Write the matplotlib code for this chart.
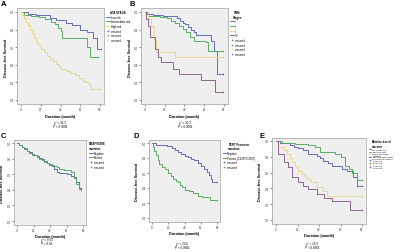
import matplotlib
matplotlib.use("Agg")
import matplotlib.pyplot as plt

plt.rcParams['font.family'] = ['Liberation Sans', 'DejaVu Sans']

W, H = 400, 253
BLUE, GREEN, BEIGE, PURPLE = '#5a62b0', '#4da85c', '#e3d88f', '#8a5a8e'

# ---- data ----
A_low_t = [0, 7, 15, 29, 35, 46, 52, 60, 67, 73, 77, 81]
A_low_s = [1.0, 0.98, 0.97, 0.93, 0.91, 0.88, 0.85, 0.80, 0.77, 0.70, 0.58, 0.58]
A_int_t = [0, 3, 10, 18, 24, 30, 34, 37, 40, 42, 67, 68, 70, 78]
A_int_s = [1.0, 0.97, 0.95, 0.94, 0.92, 0.89, 0.86, 0.82, 0.78, 0.70, 0.60, 0.60, 0.49, 0.49]
A_high_t = [0, 1, 3, 5, 7, 9, 11, 13, 15, 17, 20, 23, 26, 29, 32, 35, 38, 41, 46, 50, 55, 59, 63, 66, 69, 71, 80]
A_high_s = [1.0, 0.97, 0.93, 0.89, 0.85, 0.80, 0.76, 0.71, 0.66, 0.62, 0.58, 0.54, 0.50, 0.47, 0.44, 0.41,
            0.38, 0.35, 0.33, 0.31, 0.28, 0.25, 0.22, 0.20, 0.17, 0.13, 0.13]
A_labels = ['Low risk', 'Intermediate risk', 'High risk', 'censored', 'censored', 'censored']

B_I_t = [0, 2, 8, 18, 28, 32, 35, 38, 41, 44, 47, 50, 52, 67, 70, 73, 79]
B_I_s = [1.0, 0.98, 0.97, 0.96, 0.95, 0.93, 0.90, 0.88, 0.86, 0.83, 0.80, 0.77, 0.74, 0.67, 0.56, 0.30, 0.30]
B_II_t = [0, 3, 6, 15, 22, 26, 30, 34, 38, 42, 46, 50, 62, 64, 79]
B_II_s = [1.0, 0.96, 0.95, 0.94, 0.93, 0.90, 0.87, 0.84, 0.81, 0.77, 0.72, 0.67, 0.66, 0.56, 0.56]
B_III_t = [0, 3, 6, 9, 11, 30, 79]
B_III_s = [1.0, 0.92, 0.84, 0.68, 0.55, 0.49, 0.49]
B_IV_t = [0, 1, 3, 5, 10, 13, 16, 28, 34, 57, 71, 79]
B_IV_s = [1.0, 0.92, 0.84, 0.72, 0.58, 0.49, 0.43, 0.35, 0.30, 0.23, 0.09, 0.09]
B_labels = ['I', 'II', 'III', 'IV', 'censored', 'censored', 'censored', 'censored']

C_t = [0, 3, 6, 9, 12, 15, 18, 21, 24, 27, 30, 33, 36, 39, 42, 45, 48, 51, 54, 57, 60, 63, 66, 69, 72, 75, 78]
C_neg_s = [1.0, 0.97, 0.95, 0.92, 0.90, 0.88, 0.86, 0.85, 0.83, 0.81, 0.79, 0.77, 0.74, 0.72, 0.70, 0.67,
           0.63, 0.61, 0.61, 0.61, 0.60, 0.60, 0.58, 0.56, 0.50, 0.42, 0.42]
C_pos_s = [1.0, 0.98, 0.95, 0.93, 0.90, 0.87, 0.85, 0.84, 0.82, 0.80, 0.78, 0.76, 0.74, 0.73, 0.72, 0.70,
           0.69, 0.67, 0.67, 0.66, 0.65, 0.65, 0.63, 0.55, 0.48, 0.41, 0.40]
C_labels = ['Negative', 'Positive', 'censored', 'censored']

D_neg_t = [0, 5, 10, 18, 24, 28, 32, 36, 40, 44, 48, 52, 56, 60, 64, 68, 70, 72, 74, 80]
D_neg_s = [1.0, 0.98, 0.97, 0.96, 0.94, 0.91, 0.88, 0.86, 0.83, 0.81, 0.79, 0.77, 0.74, 0.70, 0.66, 0.62,
           0.57, 0.52, 0.48, 0.48]
D_pos_t = [0, 1, 3, 5, 7, 9, 12, 16, 20, 23, 26, 29, 32, 35, 37, 40, 45, 50, 56, 62, 71, 80]
D_pos_s = [1.0, 0.95, 0.90, 0.84, 0.78, 0.72, 0.68, 0.65, 0.60, 0.56, 0.52, 0.50, 0.48, 0.44, 0.41, 0.38,
           0.36, 0.34, 0.30, 0.28, 0.24, 0.24]
D_labels = ['Negative', 'Positive (C228T/C250T)', 'censored', 'censored']

E_no_t = [0, 4, 13, 17, 20, 25, 30, 38, 41, 44, 48, 52, 61, 66, 72, 75, 80]
E_no_s = [1.0, 0.97, 0.95, 0.93, 0.91, 0.88, 0.84, 0.81, 0.78, 0.75, 0.72, 0.68, 0.65, 0.62, 0.55, 0.43, 0.43]
E_braf_t = [0, 6, 18, 30, 36, 41, 55, 60, 64, 68, 71, 75, 80]
E_braf_s = [1.0, 0.97, 0.96, 0.95, 0.92, 0.86, 0.84, 0.80, 0.68, 0.64, 0.60, 0.51, 0.51]
E_tert_t = [0, 2, 7, 10, 13, 15, 18, 20, 24, 27, 30, 33, 38, 44, 47, 80]
E_tert_s = [1.0, 0.93, 0.88, 0.83, 0.78, 0.74, 0.68, 0.62, 0.58, 0.55, 0.52, 0.48, 0.42, 0.37, 0.31, 0.31]
E_both_t = [0, 2, 7, 11, 15, 20, 25, 30, 38, 45, 52, 69, 80]
E_both_s = [1.0, 0.84, 0.73, 0.67, 0.54, 0.48, 0.43, 0.39, 0.33, 0.28, 0.24, 0.13, 0.13]
E_labels = ['No mutations', 'BRAFV600E', 'TERT promoter\nmutation', 'BRAFV600E+TERT\npromoter mutations',
            'censored', 'censored', 'censored', 'censored']

x_ticks = [0, 20, 40, 60, 80]
y_ticks = [0.0, 0.2, 0.4, 0.6, 0.8, 1.0]

fig = plt.figure(figsize=(W / 100, H / 100), dpi=100)
fig.patch.set_facecolor('white')


def make_axes(x0, x80, y1, y0):
    s = (x80 - x0) / 80.0
    h = (y0 - y1)
    left = x0 - 4 * s
    right = x80 + 4 * s
    top = y1 - 0.04 * h
    bottom = y0 + 0.05 * h
    ax = fig.add_axes([left / W, 1 - bottom / H, (right - left) / W, (bottom - top) / H])
    ax.set_xlim(-4, 84)
    ax.set_ylim(-0.05, 1.04)
    ax.set_facecolor('#efefef')
    for sp in ax.spines.values():
        sp.set_color('#a0a0a0')
        sp.set_linewidth(0.5)
    ax.set_xticks(x_ticks)
    ax.set_yticks(y_ticks)
    ax.set_yticklabels([f'{v:.1f}' for v in y_ticks])
    ax.tick_params(labelsize=2.2, length=1.2, width=0.4, pad=0.8, colors='#333333')
    ax.set_xlabel('Duration (month)', fontsize=2.7, fontweight='bold', labelpad=1.8)
    ax.set_ylabel('Disease-free Survival', fontsize=2.7, fontweight='bold', labelpad=1.8)
    return ax


def draw(ax, series, labels, title, fs=1.9, tfs=2.1):
    handles = []
    for t, s, c in series:
        ln, = ax.step(t, s, where='post', color=c, lw=0.65)
        ax.plot([t[-1]], [s[-1]], marker='|', ms=1.2, mew=0.4, color=c)
        handles.append(ln)
    for (t, s, c) in series:
        h, = ax.plot([], [], marker='+', ls='none', ms=1.5, mew=0.4, color=c)
        handles.append(h)
    leg = ax.legend(handles, labels, loc='upper left', bbox_to_anchor=(1.01, 1.0), fontsize=fs,
                    title=title, title_fontsize=tfs, frameon=False, handlelength=1.2,
                    handletextpad=0.4, labelspacing=0.25, borderaxespad=0.2)
    leg.get_title().set_fontweight('bold')


axA = make_axes(21, 100, 13, 101)
draw(axA, [(A_low_t, A_low_s, BLUE), (A_int_t, A_int_s, GREEN), (A_high_t, A_high_s, BEIGE)],
     A_labels, 'ATA STAGE')

axB = make_axes(145, 224, 13, 101)
draw(axB, [(B_I_t, B_I_s, BLUE), (B_II_t, B_II_s, GREEN), (B_III_t, B_III_s, BEIGE),
           (B_IV_t, B_IV_s, PURPLE)], B_labels, 'TNM\nStages')

axC = make_axes(17, 83, 144, 222)
draw(axC, [(C_t, C_neg_s, BLUE), (C_t, C_pos_s, GREEN)], C_labels, 'BRAFV600E\nmutation')

axD = make_axes(152, 217, 144, 219)
draw(axD, [(D_neg_t, D_neg_s, BLUE), (D_pos_t, D_pos_s, GREEN)], D_labels, 'TERT Promoter\nmutation')

axE = make_axes(276, 362, 142, 221)
draw(axE, [(E_no_t, E_no_s, BLUE), (E_braf_t, E_braf_s, GREEN), (E_tert_t, E_tert_s, BEIGE),
           (E_both_t, E_both_s, PURPLE)], E_labels, 'Mutation-based\noutcome', fs=1.7, tfs=1.9)

# panel letters
for lab, x, y in [('A', 1, 1), ('B', 130, 1), ('C', 1, 133), ('D', 133, 133), ('E', 259, 133)]:
    fig.text(x / W, 1 - y / H, lab, fontsize=5.5, fontweight='bold', va='top', ha='left')

# statistics annotations
stats = [('χ² = 36.3\nP < 0.0001', 60, 121), ('χ² = 32.3\nP < 0.0001', 185, 121),
         ('χ² = 0.05\nP = 0.82', 47, 238), ('χ² = 23.6\nP < 0.0001', 182, 242),
         ('χ² = 25.0\nP < 0.0001', 312, 242)]
for txt, x, y in stats:
    fig.text(x / W, 1 - y / H, txt, fontsize=2.2, ha='center', va='top', linespacing=1.15)

fig.savefig('out.png', dpi=100)
